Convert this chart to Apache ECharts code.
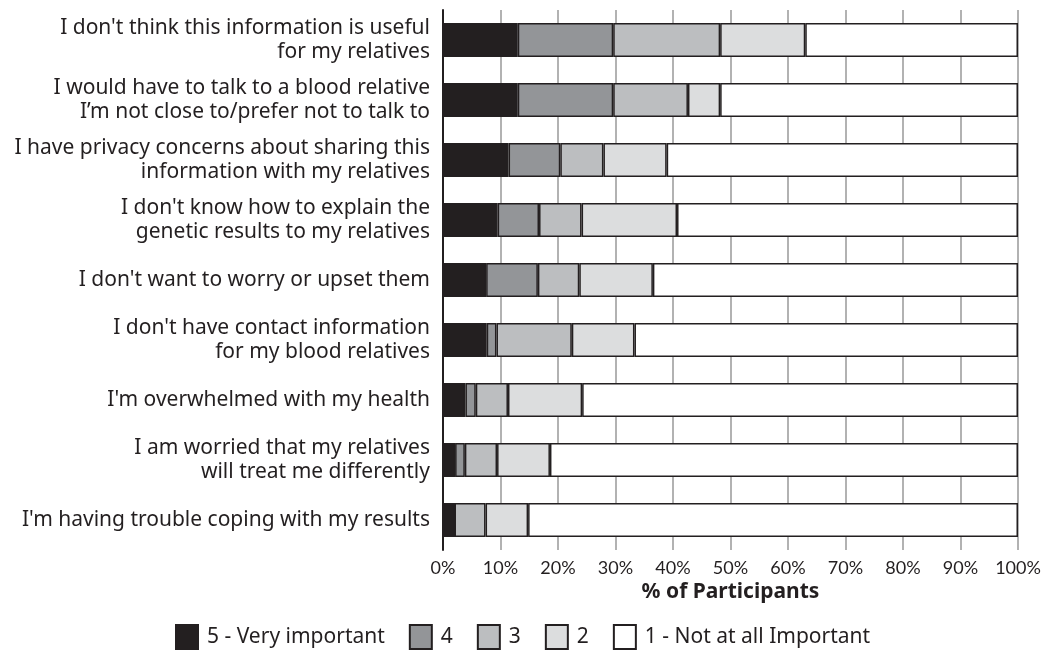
<!DOCTYPE html>
<html>
<head>
<meta charset="utf-8">
<script src="https://cdn.jsdelivr.net/npm/echarts@6/dist/echarts.min.js"></script>
<style>
  html, body { margin: 0; padding: 0; background: #fff; }
  #chart { width: 1050px; height: 652px; }
</style>
</head>
<body>
<div id="chart"></div>
<script>
// reasons, top to bottom
const reasons = [
  "I don't think this information is useful\nfor my relatives",
  "I would have to talk to a blood relative\nI\u2019m not close to/prefer not to talk to",
  "I have privacy concerns about sharing this\ninformation with my relatives",
  "I don't know how to explain the\ngenetic results to my relatives",
  "I don't want to worry or upset them",
  "I don't have contact information\nfor my blood relatives",
  "I'm overwhelmed with my health",
  "I am worried that my relatives\nwill treat me differently",
  "I'm having trouble coping with my results"
]

// % of participants per rating
const veryImportant = [13.0, 13.0, 11.4, 9.5, 7.5, 7.6, 3.9, 2.1, 2.0]
const rating4 = [16.6, 16.6, 9.0, 7.2, 9.0, 1.7, 1.8, 1.7, 0]
const rating3 = [18.6, 13.0, 7.5, 7.4, 7.2, 13.1, 5.6, 5.6, 5.4]
const rating2 = [14.8, 5.6, 11.0, 16.6, 12.8, 10.9, 12.9, 9.2, 7.4]
const notImportant = [37.0, 51.8, 61.1, 59.3, 63.5, 66.7, 75.8, 81.4, 85.2]

const seriesNames = ['5 - Very important', '4', '3', '2', '1 - Not at all Important']
const seriesData = [veryImportant, rating4, rating3, rating2, notImportant]
const fills = ['#231f20', '#939598', '#bcbec0', '#dcddde', '#ffffff']

const chart = echarts.init(document.getElementById('chart'))

chart.setOption({
  animation: false,
  textStyle: { fontFamily: 'Noto Sans' },
  grid: { left: 443, right: 32, top: 10, bottom: 102, containLabel: false },
  legend: {
    left: 170,
    top: 619,
    itemWidth: 22,
    itemHeight: 24,
    itemGap: 24,
    icon: 'rect',
    data: seriesNames,
    textStyle: { fontFamily: 'Noto Sans', fontSize: 21, color: '#231f20', padding: [0, 0, 0, 4] }
  },
  xAxis: {
    type: 'value',
    min: 0,
    max: 100,
    interval: 10,
    name: '% of Participants',
    nameLocation: 'middle',
    nameGap: 32,
    nameTextStyle: { fontFamily: 'Noto Sans', fontWeight: 'bold', fontSize: 21, color: '#231f20' },
    axisLine: { show: false },
    axisTick: { show: false },
    axisLabel: {
      margin: 9,
      fontFamily: 'Lato',
      fontSize: 18,
      color: '#231f20',
      formatter: v => v + '%'
    },
    splitLine: { show: true, lineStyle: { color: '#999', width: 1.5 } }
  },
  yAxis: {
    type: 'category',
    inverse: true,
    data: reasons,
    axisLine: { show: true, lineStyle: { color: '#231f20', width: 2 } },
    axisTick: { show: false },
    axisLabel: {
      margin: 13,
      fontSize: 21,
      lineHeight: 24,
      color: '#231f20',
      align: 'right'
    }
  },
  series: seriesData.map((d, i) => ({
    name: seriesNames[i],
    type: 'bar',
    stack: 'all',
    barWidth: 34,
    data: d,
    itemStyle: { color: fills[i], borderColor: '#231f20', borderWidth: 1.5 }
  }))
})
</script>
</body>
</html>
